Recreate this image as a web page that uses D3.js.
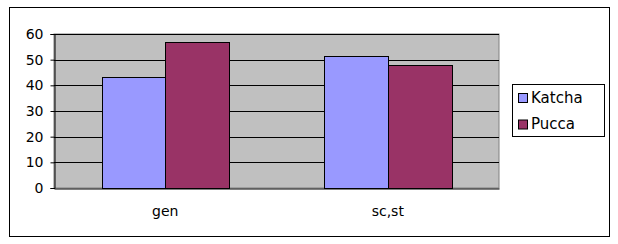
<!DOCTYPE html>
<html>
<head>
<meta charset="utf-8">
<script src="https://cdn.jsdelivr.net/npm/d3@7"></script>
<style>
  body { margin: 0; background: #fff; }
  text { font-family: "DejaVu Sans", Verdana, sans-serif; fill: #000; }
</style>
</head>
<body>
<div id="wrapper"></div>
<script>
const categories = ["gen", "sc,st"];
const seriesNames = ["Katcha", "Pucca"];
const katcha = [43.4, 51.6];
const pucca = [57, 48];
const yTicks = [0, 10, 20, 30, 40, 50, 60];
const colors = ["#9999ff", "#993366"];

function buildPlot() {
    const dimension = {
        width: 618,
        height: 244,
        plot: { left: 54, top: 34, right: 499, bottom: 188 }
    };

    const svg = d3.select("#wrapper").append("svg")
        .attr("width", dimension.width)
        .attr("height", dimension.height);

    // outer chart frame
    svg.append("rect")
        .attr("x", 9.5).attr("y", 7.5)
        .attr("width", 600).attr("height", 229)
        .attr("fill", "#fff").attr("stroke", "#000");

    const x = d3.scaleBand()
        .domain(categories)
        .range([dimension.plot.left, dimension.plot.right]);

    const xInner = d3.scaleBand()
        .domain(seriesNames)
        .range([0, x.bandwidth()])
        .paddingOuter(0.75);

    const y = d3.scaleLinear()
        .domain([0, 60])
        .range([dimension.plot.bottom, dimension.plot.top]);

    // plot area
    svg.append("rect")
        .attr("x", dimension.plot.left).attr("y", dimension.plot.top)
        .attr("width", dimension.plot.right - dimension.plot.left)
        .attr("height", dimension.plot.bottom - dimension.plot.top)
        .attr("fill", "#c0c0c0").attr("stroke", "#808080");

    // gridlines
    svg.append("g")
        .selectAll("line")
        .data(yTicks.filter(d => d > 0))
        .join("line")
        .attr("x1", dimension.plot.left).attr("x2", dimension.plot.right)
        .attr("y1", d => Math.round(y(d)) + 0.5).attr("y2", d => Math.round(y(d)) + 0.5)
        .attr("stroke", "#000");

    const values = [katcha, pucca];
    seriesNames.forEach((name, i) => {
        svg.append("g")
            .selectAll("rect")
            .data(categories)
            .join("rect")
            .attr("x", (c) => Math.round(x(c) + xInner(name)) + 0.5)
            .attr("y", (c, j) => Math.round(y(values[i][j])) + 0.5)
            .attr("width", Math.round(xInner.bandwidth()))
            .attr("height", (c, j) => Math.round(y(0)) - Math.round(y(values[i][j])))
            .attr("fill", colors[i])
            .attr("stroke", "#000");
    });

    // y axis
    const yAxis = svg.append("g")
        .attr("transform", `translate(${dimension.plot.left + 0.5},0)`)
        .call(d3.axisLeft(y).tickValues(yTicks).tickSize(4).tickPadding(7));
    yAxis.select(".domain").attr("stroke", "#000");
    yAxis.selectAll("text").style("font-size", "14px").style("font-family", "DejaVu Sans");

    // x axis
    const xAxis = svg.append("g")
        .attr("transform", `translate(0,${Math.round(y(0)) + 0.5})`)
        .call(d3.axisBottom(x).tickSize(0).tickPadding(18));
    xAxis.select(".domain").attr("stroke", "#000");
    xAxis.selectAll("text").style("font-size", "14px").style("font-family", "DejaVu Sans");

    // legend
    const legend = svg.append("g");
    legend.append("rect")
        .attr("x", 512.5).attr("y", 84.5)
        .attr("width", 92).attr("height", 52)
        .attr("fill", "#fff").attr("stroke", "#000");
    const item = legend.selectAll("g.item")
        .data(seriesNames)
        .join("g")
        .attr("class", "item")
        .attr("transform", (d, i) => `translate(518,${93 + i * 26.5})`);
    item.append("rect")
        .attr("x", 0.5).attr("y", 0.5)
        .attr("width", 9).attr("height", 9)
        .attr("fill", (d, i) => colors[i])
        .attr("stroke", "#000");
    item.append("text")
        .attr("x", 13).attr("y", 9.5)
        .style("font-size", "15px")
        .text(d => d);
}

buildPlot();
</script>
</body>
</html>
